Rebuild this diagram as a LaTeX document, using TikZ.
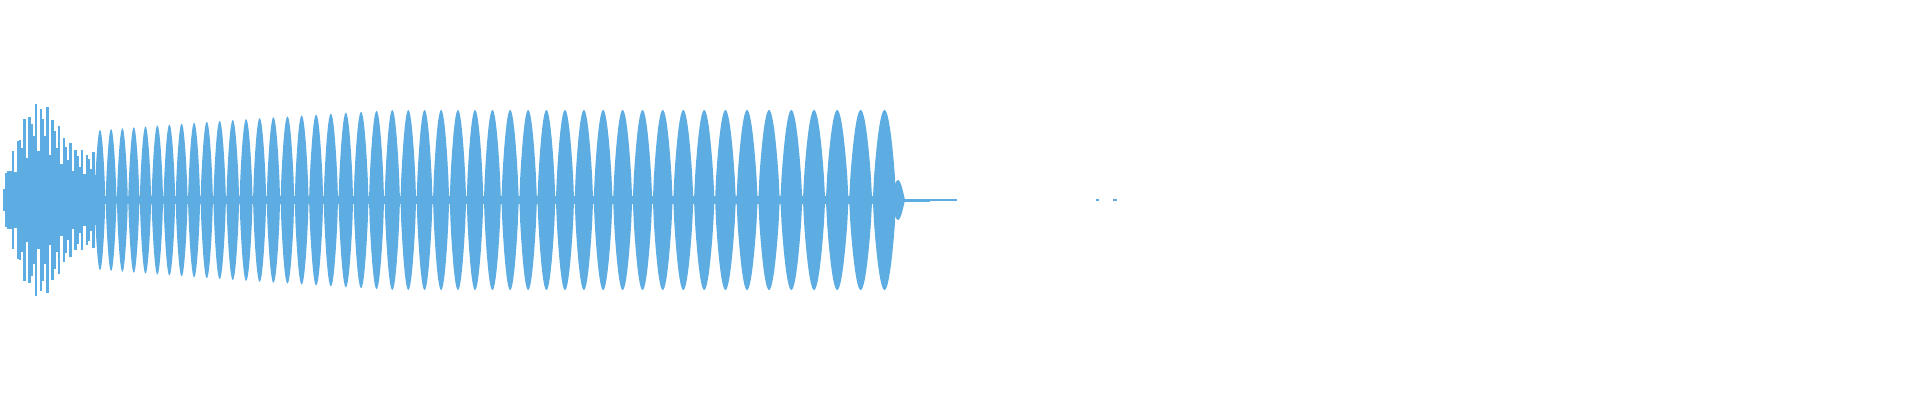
\documentclass[tikz,border=0pt]{standalone}
\usetikzlibrary{positioning}
\definecolor{wave}{HTML}{5DADE2}
\tikzset{lobe/.style={fill=wave,draw=none},
  spike/.style={draw=wave,line width=0.7pt}}
\begin{document}
\begin{tikzpicture}[x=0.01cm,y=-0.01cm]
  \useasboundingbox (0,0) rectangle (1920,400);
  % centre band
  \fill[wave] (4,196) rectangle (884,204);
  % dense start
  \foreach \x in {4,6.3,...,104}{
    \pgfmathsetmacro\env{\x<20 ? 10+3*\x : 48+50*exp(-((\x-40)/24)^2)}
    \pgfmathsetmacro\amp{\env*(0.4+0.6*abs(sin(\x*47)))}
    \draw[spike] (\x,200-\amp) -- (\x,200+\amp);
  }
  % lobes
  \foreach \n in {0,...,47}{
    \pgfmathsetmacro\c{100+660*(exp(\n/60)-1)}
    \pgfmathsetmacro\w{0.97*11*exp(\n/60)}
    \pgfmathsetmacro\a{\n<22 ? 70+20*\n/22 : 90}
    \fill[lobe] plot[domain=0:180,samples=20] ({\c-\w/2+\w*\x/180},{200-\a*sin(\x)^0.75})
      -- plot[domain=180:0,samples=20] ({\c-\w/2+\w*\x/180},{200+\a*sin(\x)^0.75}) -- cycle;
  }
  % tail
  \fill[lobe] plot[domain=0:180,samples=14] ({891+14*\x/180},{200-20*sin(\x)})
      -- plot[domain=180:0,samples=14] ({891+14*\x/180},{200+20*sin(\x)}) -- cycle;
  \fill[wave] (903,198.5) rectangle (930,201.5);
  \fill[wave] (930,199.4) rectangle (957,200.6);
  \fill[wave] (1096,199.4) rectangle (1099,200.6);
  \fill[wave] (1113,199.4) rectangle (1117,200.6);
\end{tikzpicture}
\end{document}
